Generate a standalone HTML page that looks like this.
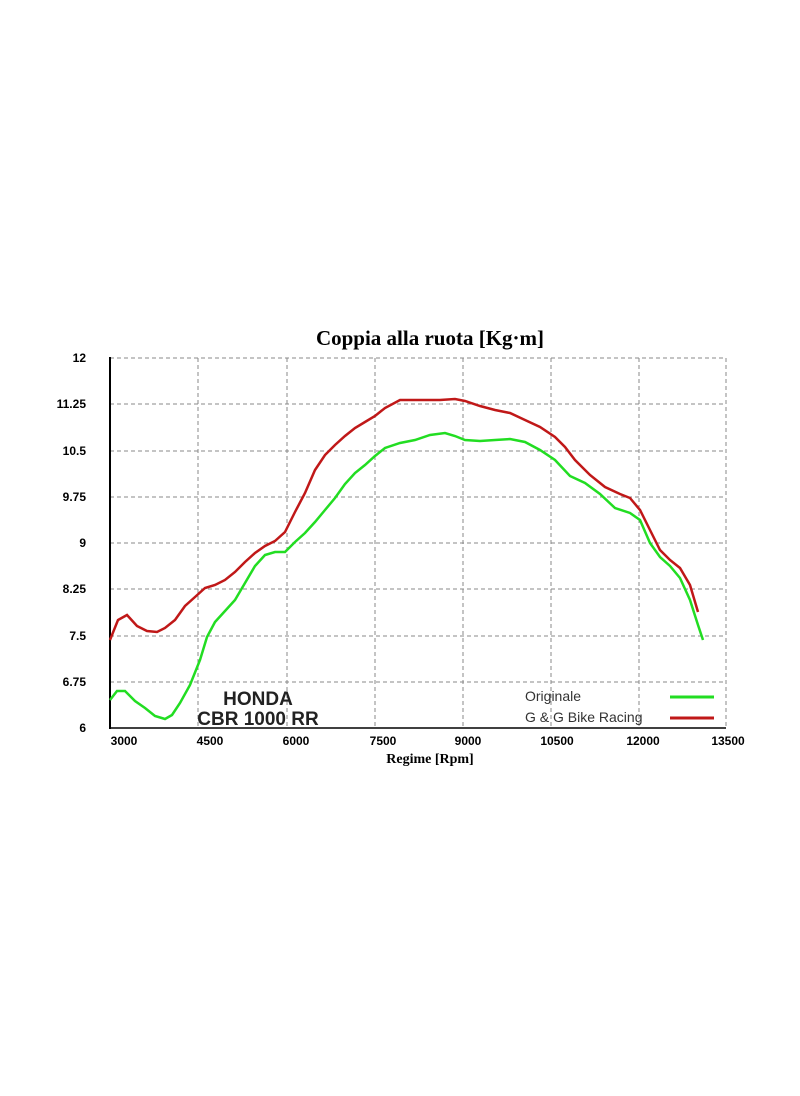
<!DOCTYPE html>
<html><head><style>body{margin:0;background:#fff}svg{display:block}</style></head><body>
<svg width="800" height="1096" xmlns="http://www.w3.org/2000/svg">
<text x="430" y="345" font-family="Liberation Serif, serif" font-weight="bold" font-size="21" text-anchor="middle">Coppia alla ruota  [Kg·m]</text>
<g stroke="#888" stroke-dasharray="4,3" stroke-width="1" fill="none">
<line x1="110" y1="358" x2="726" y2="358"/><line x1="110" y1="404" x2="726" y2="404"/><line x1="110" y1="451" x2="726" y2="451"/><line x1="110" y1="497" x2="726" y2="497"/><line x1="110" y1="543" x2="726" y2="543"/><line x1="110" y1="589" x2="726" y2="589"/><line x1="110" y1="636" x2="726" y2="636"/><line x1="110" y1="682" x2="726" y2="682"/>
<line x1="198" y1="358" x2="198" y2="728"/><line x1="287" y1="358" x2="287" y2="728"/><line x1="375" y1="358" x2="375" y2="728"/><line x1="463" y1="358" x2="463" y2="728"/><line x1="551" y1="358" x2="551" y2="728"/><line x1="639" y1="358" x2="639" y2="728"/><line x1="726" y1="358" x2="726" y2="728"/>
</g>
<line x1="110" y1="357" x2="110" y2="729" stroke="#000" stroke-width="2"/>
<line x1="110" y1="728" x2="726" y2="728" stroke="#000" stroke-width="1.5"/>
<g font-family="Liberation Sans, sans-serif" font-weight="bold" font-size="12" text-anchor="end">
<text x="86" y="362">12</text><text x="86" y="408">11.25</text><text x="86" y="455">10.5</text><text x="86" y="501">9.75</text><text x="86" y="547">9</text><text x="86" y="593">8.25</text><text x="86" y="640">7.5</text><text x="86" y="686">6.75</text><text x="86" y="732">6</text>
</g>
<g font-family="Liberation Sans, sans-serif" font-weight="bold" font-size="12" text-anchor="middle">
<text x="124" y="745">3000</text><text x="210" y="745">4500</text><text x="296" y="745">6000</text><text x="383" y="745">7500</text><text x="468" y="745">9000</text><text x="557" y="745">10500</text><text x="643" y="745">12000</text><text x="728" y="745">13500</text>
</g>
<text x="430" y="763" font-family="Liberation Serif, serif" font-weight="bold" font-size="14" text-anchor="middle">Regime [Rpm]</text>
<polyline fill="none" stroke="#c01818" stroke-width="2.5" points="110,640 118,620 127,615 137,626 147,631 157,632 165,628 175,620 185,606 195,597 205,588 215,585 225,580 235,572 245,562 255,553 265,546 275,541 285,532 295,512 305,493 315,470 325,455 335,445 345,436 355,428 365,422 375,416 385,408 400,400 420,400 440,400 455,399 465,401 480,406 495,410 510,413 525,420 540,427 555,437 565,447 575,460 590,475 605,487 620,494 630,498 640,510 650,530 660,550 670,560 680,568 690,585 698,612"/>
<polyline fill="none" stroke="#22dd22" stroke-width="2.5" points="110,700 117,691 125,691 135,701 145,708 155,716 165,719 172,715 180,703 190,685 200,660 207,637 215,622 225,611 235,600 245,583 255,566 265,555 275,552 285,552 295,542 305,533 315,522 325,510 335,498 345,484 355,473 365,465 375,456 385,448 400,443 415,440 430,435 445,433 455,436 465,440 480,441 495,440 510,439 525,442 540,450 555,460 570,476 585,483 600,494 615,508 630,513 640,520 650,543 660,557 670,566 680,578 690,600 698,625 703,640"/>
<g font-family="Liberation Sans, sans-serif" font-weight="bold" font-size="19" fill="#222" text-anchor="middle">
<text x="258" y="705">HONDA</text><text x="258" y="725">CBR 1000 RR</text>
</g>
<g font-family="Liberation Sans, sans-serif" font-size="14" fill="#333">
<text x="525" y="701">Originale</text><text x="525" y="722">G &amp; G Bike Racing</text>
</g>
<line x1="670" y1="697" x2="714" y2="697" stroke="#22dd22" stroke-width="3"/>
<line x1="670" y1="718" x2="714" y2="718" stroke="#c01818" stroke-width="3"/>
</svg>
</body></html>
